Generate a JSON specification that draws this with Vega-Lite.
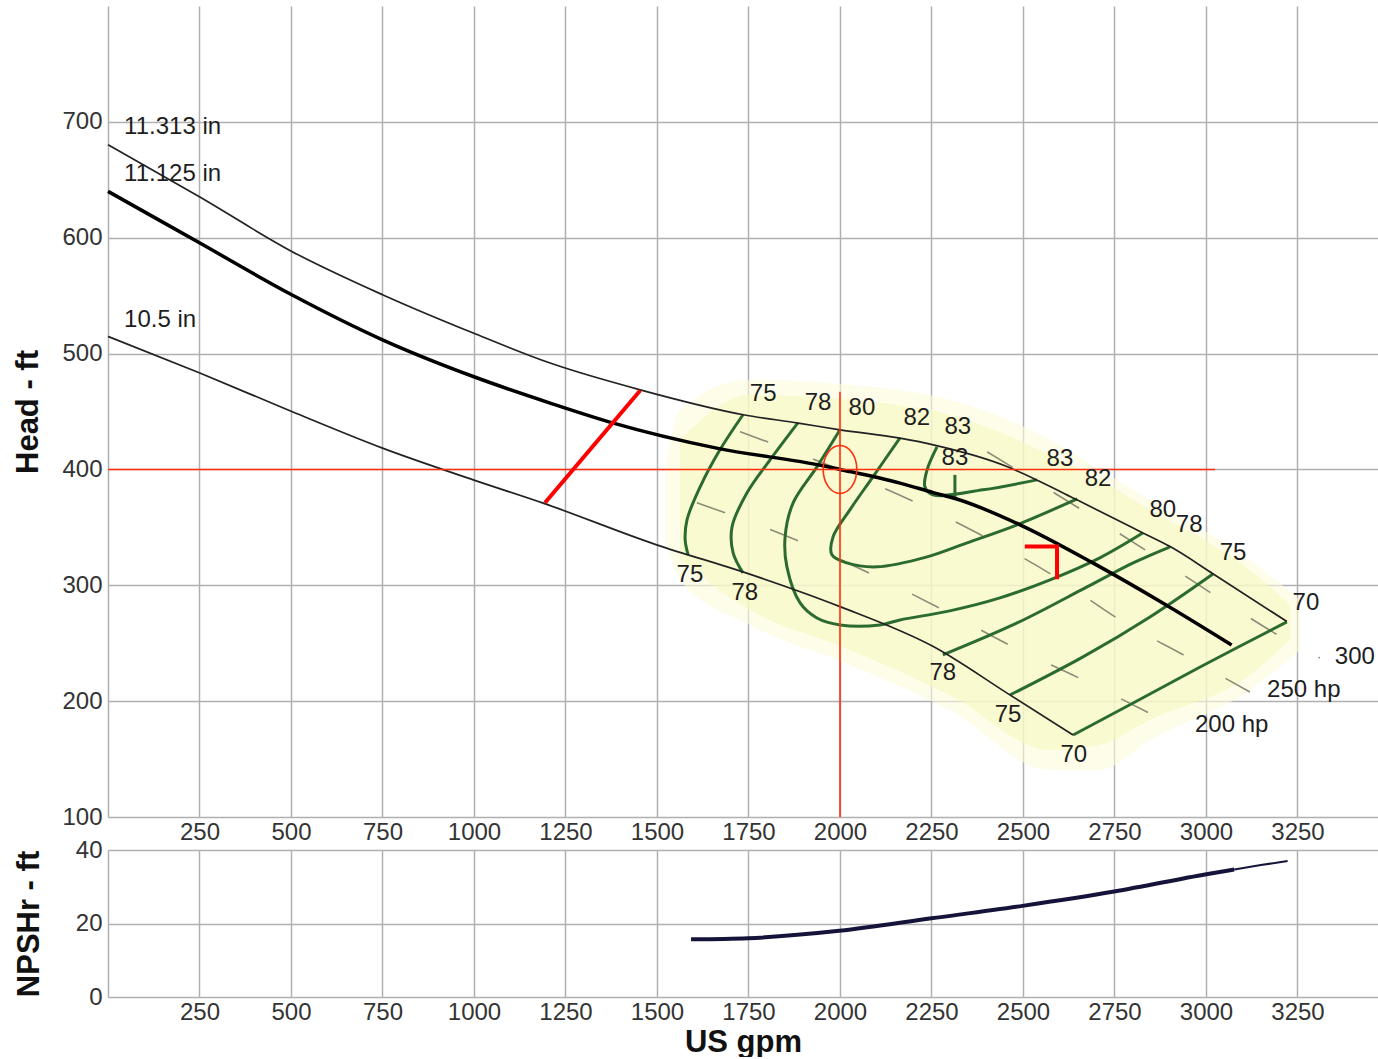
{
  "$schema": "https://vega.github.io/schema/vega-lite/v6.json",
  "padding": {"left": 12, "top": 6, "right": 0, "bottom": 0},
  "spacing": 33,
  "bounds": "flush",
  "config": {
    "view": {"stroke": null},
    "font": "Liberation Sans, Arial, sans-serif",
    "axis": {
      "grid": true, "gridColor": "#b0b0b0", "gridWidth": 1.5, "gridOpacity": 1,
      "domain": false, "ticks": false, "tickSize": 0,
      "labelFont": "Liberation Sans, Arial, sans-serif", "labelFontSize": 24, "labelColor": "#333333",
      "labelFlush": false, "labelOverlap": false, "labelBound": false,
      "titleFont": "Liberation Sans, Arial, sans-serif", "titleFontSize": 31, "titleFontWeight": "bold", "titleColor": "#111111"
    }
  },
  "datasets": {
    "yellow_outer": [
      {"gpm": 1522, "head": 399.7, "head2": 339.2},
      {"gpm": 1563, "head": 451.5, "head2": 304.7},
      {"gpm": 1754, "head": 477.4, "head2": 265.8},
      {"gpm": 2027, "head": 473.1, "head2": 231.3},
      {"gpm": 2300, "head": 460.1, "head2": 192.4},
      {"gpm": 2574, "head": 425.6, "head2": 140.6},
      {"gpm": 2710, "head": 399.7, "head2": 140.6},
      {"gpm": 2847, "head": 373.7, "head2": 166.5},
      {"gpm": 3120, "head": 321.9, "head2": 209.7},
      {"gpm": 3257, "head": 287.4, "head2": 244.2}
    ],
    "yellow_inner": [
      {"gpm": 1563, "head": 425.6, "head2": 321.9},
      {"gpm": 1754, "head": 464.4, "head2": 278.8},
      {"gpm": 2027, "head": 460.1, "head2": 244.2},
      {"gpm": 2300, "head": 447.2, "head2": 205.4},
      {"gpm": 2574, "head": 412.6, "head2": 157.9},
      {"gpm": 2710, "head": 391.0, "head2": 162.2},
      {"gpm": 2847, "head": 365.1, "head2": 183.8},
      {"gpm": 3120, "head": 313.3, "head2": 222.6},
      {"gpm": 3230, "head": 283.1, "head2": 252.9}
    ],
    "hp": [
      {"hp": "300 hp", "gpm": 2402, "head": 415.2},
      {"hp": "300 hp", "gpm": 2669, "head": 363.4},
      {"hp": "300 hp", "gpm": 2855, "head": 326.3},
      {"hp": "300 hp", "gpm": 3030, "head": 290.0},
      {"hp": "300 hp", "gpm": 3210, "head": 254.6},
      {"hp": "300 hp", "gpm": 3311, "head": 237.3},
      {"hp": "250 hp", "gpm": 1727, "head": 432.5},
      {"hp": "250 hp", "gpm": 1945, "head": 406.6},
      {"hp": "250 hp", "gpm": 2210, "head": 371.1},
      {"hp": "250 hp", "gpm": 2374, "head": 345.3},
      {"hp": "250 hp", "gpm": 2593, "head": 306.4},
      {"hp": "250 hp", "gpm": 2765, "head": 270.1},
      {"hp": "250 hp", "gpm": 2948, "head": 238.2},
      {"hp": "250 hp", "gpm": 3120, "head": 207.9},
      {"hp": "200 hp", "gpm": 1609, "head": 371.2},
      {"hp": "200 hp", "gpm": 1899, "head": 336.6},
      {"hp": "200 hp", "gpm": 2090, "head": 309.0},
      {"hp": "200 hp", "gpm": 2281, "head": 278.8},
      {"hp": "200 hp", "gpm": 2473, "head": 246.8},
      {"hp": "200 hp", "gpm": 2664, "head": 218.3},
      {"hp": "200 hp", "gpm": 2855, "head": 188.1}
    ],
    "eff": [
      {"c": "75L", "gpm": 1735, "head": 447.2},
      {"c": "75L", "gpm": 1672, "head": 416.9},
      {"c": "75L", "gpm": 1618, "head": 385.0},
      {"c": "75L", "gpm": 1582, "head": 356.5},
      {"c": "75L", "gpm": 1577, "head": 339.2},
      {"c": "75L", "gpm": 1585, "head": 326.3},
      {"c": "78L", "gpm": 1885, "head": 440.2},
      {"c": "78L", "gpm": 1809, "head": 408.3},
      {"c": "78L", "gpm": 1746, "head": 379.8},
      {"c": "78L", "gpm": 1705, "head": 350.4},
      {"c": "78L", "gpm": 1708, "head": 328.0},
      {"c": "78L", "gpm": 1735, "head": 310.7},
      {"c": "80", "gpm": 2000, "head": 434.2},
      {"c": "80", "gpm": 1937, "head": 402.2},
      {"c": "80", "gpm": 1872, "head": 371.2},
      {"c": "80", "gpm": 1850, "head": 341.8},
      {"c": "80", "gpm": 1855, "head": 315.9},
      {"c": "80", "gpm": 1891, "head": 284.8},
      {"c": "80", "gpm": 1937, "head": 271.8},
      {"c": "80", "gpm": 2000, "head": 265.8},
      {"c": "80", "gpm": 2109, "head": 265.8},
      {"c": "80", "gpm": 2164, "head": 270.1},
      {"c": "80", "gpm": 2300, "head": 277.9},
      {"c": "80", "gpm": 2437, "head": 289.1},
      {"c": "80", "gpm": 2574, "head": 304.7},
      {"c": "80", "gpm": 2710, "head": 323.7},
      {"c": "80", "gpm": 2828, "head": 345.3},
      {"c": "82", "gpm": 2164, "head": 427.3},
      {"c": "82", "gpm": 2090, "head": 393.6},
      {"c": "82", "gpm": 2027, "head": 365.1},
      {"c": "82", "gpm": 1981, "head": 341.8},
      {"c": "82", "gpm": 1978, "head": 326.3},
      {"c": "82", "gpm": 2019, "head": 319.3},
      {"c": "82", "gpm": 2101, "head": 315.9},
      {"c": "82", "gpm": 2238, "head": 324.5},
      {"c": "82", "gpm": 2347, "head": 336.6},
      {"c": "82", "gpm": 2484, "head": 352.2},
      {"c": "82", "gpm": 2648, "head": 374.6},
      {"c": "83", "gpm": 2265, "head": 419.5},
      {"c": "83", "gpm": 2238, "head": 399.7},
      {"c": "83", "gpm": 2232, "head": 385.0},
      {"c": "83", "gpm": 2254, "head": 378.1},
      {"c": "83", "gpm": 2391, "head": 382.4},
      {"c": "83", "gpm": 2538, "head": 391.0},
      {"c": "bep", "gpm": 2314, "head": 395.3},
      {"c": "bep", "gpm": 2314, "head": 375.5},
      {"c": "78R", "gpm": 2281, "head": 239.9},
      {"c": "78R", "gpm": 2484, "head": 267.5},
      {"c": "78R", "gpm": 2675, "head": 298.6},
      {"c": "78R", "gpm": 2801, "head": 319.3},
      {"c": "78R", "gpm": 2902, "head": 333.2},
      {"c": "75R", "gpm": 2465, "head": 205.4},
      {"c": "75R", "gpm": 2664, "head": 238.2},
      {"c": "75R", "gpm": 2847, "head": 272.7},
      {"c": "75R", "gpm": 3019, "head": 309.8},
      {"c": "70", "gpm": 2637, "head": 170.8},
      {"c": "70", "gpm": 2801, "head": 198.4},
      {"c": "70", "gpm": 2984, "head": 229.5},
      {"c": "70", "gpm": 3221, "head": 268.4}
    ],
    "impeller_thin": [
      {"curve": "11.313 in", "gpm": 0, "head": 680.3},
      {"curve": "11.313 in", "gpm": 251, "head": 635.1},
      {"curve": "11.313 in", "gpm": 502, "head": 588.2},
      {"curve": "11.313 in", "gpm": 750, "head": 550.8},
      {"curve": "11.313 in", "gpm": 998, "head": 517.7},
      {"curve": "11.313 in", "gpm": 1208, "head": 491.8},
      {"curve": "11.313 in", "gpm": 1454, "head": 468.7},
      {"curve": "11.313 in", "gpm": 1736, "head": 447.2},
      {"curve": "11.313 in", "gpm": 1886, "head": 440.0},
      {"curve": "11.313 in", "gpm": 2000, "head": 434.2},
      {"curve": "11.313 in", "gpm": 2164, "head": 427.0},
      {"curve": "11.313 in", "gpm": 2255, "head": 421.2},
      {"curve": "11.313 in", "gpm": 2456, "head": 402.5},
      {"curve": "11.313 in", "gpm": 2546, "head": 389.6},
      {"curve": "11.313 in", "gpm": 2642, "head": 374.6},
      {"curve": "11.313 in", "gpm": 2829, "head": 345.0},
      {"curve": "11.313 in", "gpm": 2902, "head": 333.4},
      {"curve": "11.313 in", "gpm": 3020, "head": 309.8},
      {"curve": "11.313 in", "gpm": 3221, "head": 268.7},
      {"curve": "10.5 in", "gpm": 0, "head": 514.8},
      {"curve": "10.5 in", "gpm": 251, "head": 483.2},
      {"curve": "10.5 in", "gpm": 502, "head": 450.0},
      {"curve": "10.5 in", "gpm": 750, "head": 418.4},
      {"curve": "10.5 in", "gpm": 998, "head": 391.0},
      {"curve": "10.5 in", "gpm": 1189, "head": 370.9},
      {"curve": "10.5 in", "gpm": 1499, "head": 334.9},
      {"curve": "10.5 in", "gpm": 1745, "head": 310.5},
      {"curve": "10.5 in", "gpm": 2000, "head": 281.6},
      {"curve": "10.5 in", "gpm": 2255, "head": 247.1},
      {"curve": "10.5 in", "gpm": 2464, "head": 205.4},
      {"curve": "10.5 in", "gpm": 2637, "head": 170.8}
    ],
    "impeller_thick": [
      {"curve": "11.125 in", "gpm": 0, "head": 640.0},
      {"curve": "11.125 in", "gpm": 251, "head": 595.4},
      {"curve": "11.125 in", "gpm": 502, "head": 550.8},
      {"curve": "11.125 in", "gpm": 750, "head": 511.9},
      {"curve": "11.125 in", "gpm": 998, "head": 480.2},
      {"curve": "11.125 in", "gpm": 1208, "head": 457.3},
      {"curve": "11.125 in", "gpm": 1381, "head": 440.0},
      {"curve": "11.125 in", "gpm": 1663, "head": 418.4},
      {"curve": "11.125 in", "gpm": 1954, "head": 403.1},
      {"curve": "11.125 in", "gpm": 2000, "head": 400.0},
      {"curve": "11.125 in", "gpm": 2164, "head": 388.2},
      {"curve": "11.125 in", "gpm": 2255, "head": 380.0},
      {"curve": "11.125 in", "gpm": 2319, "head": 374.5},
      {"curve": "11.125 in", "gpm": 2492, "head": 352.2},
      {"curve": "11.125 in", "gpm": 2692, "head": 319.1},
      {"curve": "11.125 in", "gpm": 2883, "head": 284.5},
      {"curve": "11.125 in", "gpm": 3070, "head": 248.5}
    ],
    "red_thin": [
      {"id": "h", "gpm": 0, "head": 400},
      {"id": "h", "gpm": 3025, "head": 400},
      {"id": "v", "gpm": 2000, "head": 467},
      {"id": "v", "gpm": 2000, "head": 100}
    ],
    "red_thick": [
      {"id": "d", "gpm": 1194, "head": 371.2},
      {"id": "d", "gpm": 1454, "head": 468.1},
      {"id": "c", "gpm": 2505, "head": 333.4},
      {"id": "c", "gpm": 2593, "head": 333.4},
      {"id": "c", "gpm": 2593, "head": 305.3}
    ],
    "duty": [{"gpm": 2000, "head": 400}],
    "labels_center": [
      {"text": "75", "gpm": 1790, "head": 465.3},
      {"text": "78", "gpm": 1940, "head": 457.5},
      {"text": "80", "gpm": 2060, "head": 453.2},
      {"text": "82", "gpm": 2210, "head": 444.6},
      {"text": "83", "gpm": 2322, "head": 436.8},
      {"text": "83", "gpm": 2314, "head": 410.0},
      {"text": "83", "gpm": 2601, "head": 409.2},
      {"text": "82", "gpm": 2705, "head": 391.9},
      {"text": "80", "gpm": 2882, "head": 365.1},
      {"text": "78", "gpm": 2954, "head": 352.2},
      {"text": "75", "gpm": 3074, "head": 328.0},
      {"text": "70", "gpm": 3273, "head": 284.8},
      {"text": "75", "gpm": 1590, "head": 309.0},
      {"text": "78", "gpm": 1740, "head": 293.4},
      {"text": "78", "gpm": 2281, "head": 224.4},
      {"text": "75", "gpm": 2459, "head": 188.1},
      {"text": "70", "gpm": 2639, "head": 153.5}
    ],
    "labels_left": [
      {"text": "11.313 in", "gpm": 44, "head": 695.9},
      {"text": "11.125 in", "gpm": 44, "head": 655.4},
      {"text": "10.5 in", "gpm": 44, "head": 529.2},
      {"text": "300", "gpm": 3352, "head": 238.2},
      {"text": "250 hp", "gpm": 3167, "head": 209.7},
      {"text": "200 hp", "gpm": 2970, "head": 179.4}
    ],
    "npsh_thick": [
      {"gpm": 1593, "npsh": 15.7},
      {"gpm": 1749, "npsh": 16.0},
      {"gpm": 1998, "npsh": 18.0},
      {"gpm": 2250, "npsh": 21.4},
      {"gpm": 2499, "npsh": 24.8},
      {"gpm": 2749, "npsh": 28.7},
      {"gpm": 3001, "npsh": 33.4},
      {"gpm": 3077, "npsh": 34.7}
    ],
    "npsh_thin": [
      {"gpm": 3077, "npsh": 34.7},
      {"gpm": 3150, "npsh": 35.9},
      {"gpm": 3223, "npsh": 37.0}
    ]
  },
  "vconcat": [
    {
      "width": 1270,
      "height": 811,
      "encoding": {
        "x": {
          "field": "gpm", "type": "quantitative",
          "scale": {"domain": [0, 3470], "nice": false, "zero": false},
          "axis": {
            "values": [0, 250, 500, 750, 1000, 1250, 1500, 1750, 2000, 2250, 2500, 2750, 3000, 3250],
            "format": "d", "title": null, "labelPadding": 3,
            "labelExpr": "datum.value == 0 ? '' : datum.label"
          }
        },
        "y": {
          "field": "head", "type": "quantitative",
          "scale": {"domain": [100, 800], "nice": false, "zero": false},
          "axis": {
            "values": [100, 200, 300, 400, 500, 600, 700],
            "format": "d", "title": "Head - ft", "labelPadding": 6, "titlePadding": 17
          }
        }
      },
      "layer": [
        {
          "data": {"name": "yellow_outer"},
          "mark": {"type": "area", "interpolate": "monotone", "color": "#fcfcdc", "opacity": 0.6},
          "encoding": {"y2": {"field": "head2"}}
        },
        {
          "data": {"name": "yellow_inner"},
          "mark": {"type": "area", "interpolate": "monotone", "color": "#f8f8c0", "opacity": 0.6},
          "encoding": {"y2": {"field": "head2"}}
        },
        {
          "data": {"name": "hp"},
          "mark": {"type": "line", "interpolate": "monotone", "color": "#8c8c78", "strokeWidth": 1.6, "strokeDash": [30, 48]},
          "encoding": {"detail": {"field": "hp"}, "order": {"value": null}}
        },
        {
          "data": {"name": "eff"},
          "mark": {"type": "line", "interpolate": "catmull-rom", "color": "#2b6b30", "strokeWidth": 3},
          "encoding": {"detail": {"field": "c"}, "order": {"value": null}}
        },
        {
          "data": {"name": "impeller_thin"},
          "mark": {"type": "line", "interpolate": "monotone", "color": "#222222", "strokeWidth": 1.7},
          "encoding": {"detail": {"field": "curve"}, "order": {"value": null}}
        },
        {
          "data": {"name": "impeller_thick"},
          "mark": {"type": "line", "interpolate": "monotone", "color": "#000000", "strokeWidth": 3.5},
          "encoding": {"detail": {"field": "curve"}, "order": {"value": null}}
        },
        {
          "data": {"name": "red_thin"},
          "mark": {"type": "line", "color": "#ff3010", "strokeWidth": 1.6},
          "encoding": {"detail": {"field": "id"}, "order": {"value": null}}
        },
        {
          "data": {"name": "red_thick"},
          "mark": {"type": "line", "color": "#ff0000", "strokeWidth": 4, "strokeCap": "butt", "strokeJoin": "miter"},
          "encoding": {"detail": {"field": "id"}, "order": {"value": null}}
        },
        {
          "data": {"name": "duty"},
          "mark": {"type": "point", "shape": "M -0.7 0 A 0.7 1 0 1 0 0.7 0 A 0.7 1 0 1 0 -0.7 0 Z", "size": 2304, "filled": false, "stroke": "#ff3010", "strokeWidth": 1.6, "opacity": 1}
        },
        {
          "data": {"name": "labels_center"},
          "mark": {"type": "text", "font": "Liberation Sans, Arial, sans-serif", "fontSize": 24, "color": "#1e1e1e", "align": "center", "baseline": "middle"},
          "encoding": {"text": {"field": "text"}}
        },
        {
          "data": {"name": "labels_left"},
          "mark": {"type": "text", "font": "Liberation Sans, Arial, sans-serif", "fontSize": 24, "color": "#1e1e1e", "align": "left", "baseline": "middle"},
          "encoding": {"text": {"field": "text"}}
        }
      ]
    },
    {
      "width": 1270,
      "height": 147,
      "encoding": {
        "x": {
          "field": "gpm", "type": "quantitative",
          "scale": {"domain": [0, 3470], "nice": false, "zero": false},
          "axis": {
            "values": [0, 250, 500, 750, 1000, 1250, 1500, 1750, 2000, 2250, 2500, 2750, 3000, 3250],
            "format": "d", "title": "US gpm", "labelPadding": 3, "titlePadding": 3,
            "labelExpr": "datum.value == 0 ? '' : datum.label"
          }
        },
        "y": {
          "field": "npsh", "type": "quantitative",
          "scale": {"domain": [0, 40], "nice": false, "zero": false},
          "axis": {
            "values": [0, 20, 40],
            "format": "d", "title": "NPSHr - ft", "labelPadding": 6, "titlePadding": 30
          }
        }
      },
      "layer": [
        {
          "data": {"name": "npsh_thick"},
          "mark": {"type": "line", "interpolate": "monotone", "color": "#14143a", "strokeWidth": 4}
        },
        {
          "data": {"name": "npsh_thin"},
          "mark": {"type": "line", "interpolate": "monotone", "color": "#14143a", "strokeWidth": 2}
        }
      ]
    }
  ]
}
